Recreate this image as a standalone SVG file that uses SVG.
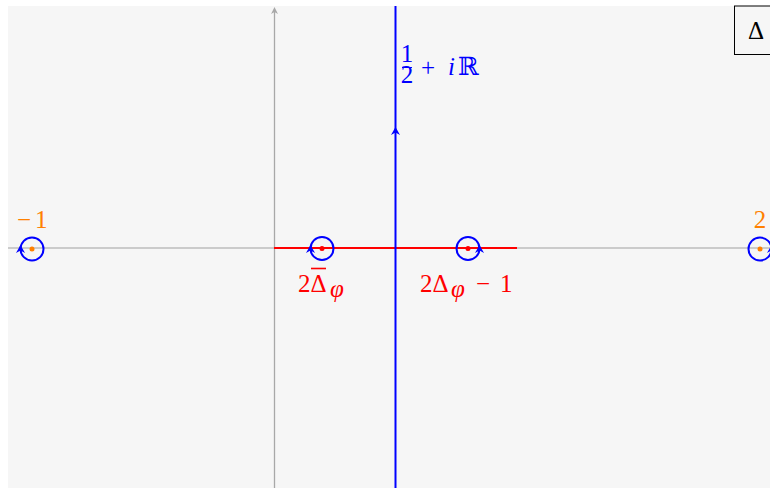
<svg xmlns="http://www.w3.org/2000/svg" width="770" height="488" viewBox="0 0 770 488">
<style>
.ax{stroke:#bdbdbd;stroke-width:1.5;fill:none}
.axv{stroke:#a8a8a8;stroke-width:1.3;fill:none}
.bl{stroke:#0000ff;stroke-width:2;fill:none}
.rd{stroke:#ff0000;stroke-width:2;fill:none}
.t{font-family:"Liberation Serif","DejaVu Serif",serif;font-size:25px}
.it{font-style:italic}
.or{fill:#ff8000}
.rt{fill:#ff0000}
.bt{fill:#0000ff}
</style>
<defs>
<path id="ah" d="M0,0 L-4.5,8 L0,5.5 L4.5,8 Z"/>
<path id="ahs" d="M0,0 L-3.5,7 L0,5 L3.5,7 Z"/>
</defs>
<rect x="8" y="6" width="762" height="482" fill="#f6f6f6"/>
<g id="axes">
<line class="ax" x1="8" y1="248" x2="770" y2="248"/>
<line class="axv" x1="274.5" y1="12" x2="274.5" y2="488"/>
<use href="#ahs" x="274.5" y="7" fill="#a8a8a8"/>
</g>
<g id="connectors">
<line class="rd" x1="274" y1="248" x2="517" y2="248"/>
<line class="bl" x1="395.5" y1="6" x2="395.5" y2="488"/>
<use href="#ah" x="395.5" y="127" fill="#0000ff"/>
</g>
<g id="node-m1">
<circle class="bl" cx="32" cy="249" r="11.5"/>
<circle cx="32" cy="249" r="2.5" fill="#ff8000"/>
<use href="#ah" x="20.5" y="245" fill="#0000ff"/>
<text class="t or" x="17" y="228" font-size="30">−</text>
<text class="t or" x="35" y="228" font-size="26">1</text>
</g>
<g id="node-2dbar">
<circle class="bl" cx="322" cy="248.5" r="11.5"/>
<circle cx="322" cy="248.5" r="2.5" fill="#ff0000"/>
<use href="#ah" x="310.5" y="245" fill="#0000ff"/>
<text class="t rt" x="298" y="292" font-size="26">2Δ</text>
<line x1="311" y1="268.5" x2="326" y2="268.5" stroke="#ff0000" stroke-width="1.6"/>
<text class="t rt it" x="330" y="297" font-size="18">φ</text>
</g>
<g id="node-2dm1">
<circle class="bl" cx="468" cy="248.5" r="11.5"/>
<circle cx="468" cy="248.5" r="2.5" fill="#ff0000"/>
<use href="#ah" x="479.5" y="245" fill="#0000ff"/>
<text class="t rt" x="420" y="292" font-size="26">2Δ</text>
<text class="t rt it" x="451" y="297" font-size="18">φ</text>
<text class="t rt" x="476" y="292" font-size="30">−</text>
<text class="t rt" x="500" y="292" font-size="26">1</text>
</g>
<g id="node-2">
<circle class="bl" cx="760" cy="249" r="11.5"/>
<circle cx="760" cy="249" r="2.5" fill="#ff8000"/>
<use href="#ah" x="771.5" y="245" fill="#0000ff"/>
<text class="t or" x="760" y="228" text-anchor="middle" font-size="26">2</text>
</g>
<g id="label-line">
<text class="t bt" x="407" y="62" font-size="14" text-anchor="middle">1</text>
<line x1="402" y1="67.5" x2="412" y2="67.5" stroke="#0000ff" stroke-width="1"/>
<text class="t bt" x="407" y="83" font-size="14" text-anchor="middle">2</text>
<text class="t bt" x="421" y="76" font-size="28">+</text>
<text class="t bt it" x="448" y="75">i</text>
<text class="t bt" x="458" y="75" font-family="DejaVu Serif" font-size="22">ℝ</text>
</g>
<g id="legend">
<rect x="734.5" y="6" width="60" height="48.5" fill="none" stroke="#000" stroke-width="1"/>
<text class="t" x="748" y="39" fill="#000" font-size="26">Δ</text>
</g>
</svg>
